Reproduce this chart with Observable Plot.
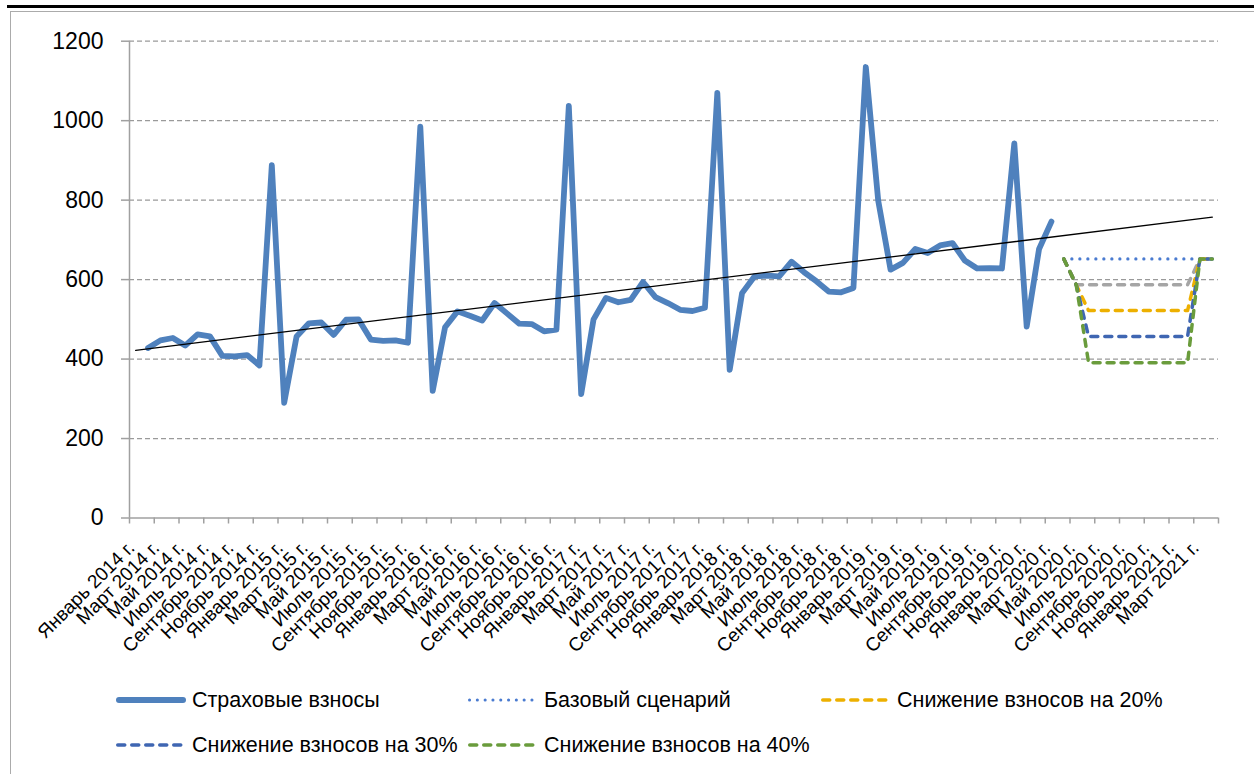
<!DOCTYPE html>
<html>
<head>
<meta charset="utf-8">
<script src="https://cdn.jsdelivr.net/npm/d3@7"></script>
<script src="https://cdn.jsdelivr.net/npm/@observablehq/plot@0.6"></script>
<style>
  body { margin: 0; background: #fff; font-family: "Liberation Sans", Arial, sans-serif; }
  #wrap { position: relative; width: 1254px; height: 774px; overflow: hidden; background: #fff; }
  #topline { position: absolute; left: 7px; top: 5px; width: 1247px; height: 3px; background: #000; }
  #frame { position: absolute; left: 10px; top: 11px; width: 1300px; height: 820px; border: 1.5px solid #ABABAB; box-sizing: border-box; }
  #chart { position: absolute; left: 0; top: 0; }
  .lg { position: absolute; display: flex; align-items: center; height: 30px; font-size: 21.5px; color: #000; white-space: nowrap; }
  .lg svg { margin-right: 5px; }
</style>
</head>
<body>
<div id="wrap">
  <div id="topline"></div>
  <div id="frame"></div>
  <div id="chart"></div>
  <div id="legend"></div>
</div>
<script>
// ---- data ----
const monthNames = ["Январь","Февраль","Март","Апрель","Май","Июнь","Июль","Август","Сентябрь","Октябрь","Ноябрь","Декабрь"];
const years = [2014, 2015, 2016, 2017, 2018, 2019, 2020, 2021];
const firstCategory = "Январь 2014 г.";
const lastCategory = "Апрель 2021 г.";

// Страховые взносы, monthly from February 2014
const premiumsStart = "Февраль 2014 г.";
const premiums = [
  428, 447, 453, 434, 462, 457, 408, 407, 410, 384, 888,
  290, 457, 490, 492, 461, 499, 500, 449, 446, 447, 441, 985,
  320, 480, 520, 509, 497, 541, 515, 489, 488, 470, 474, 1037,
  312, 500, 554, 543, 549, 594, 556, 541, 524, 521, 529, 1070,
  373, 566, 608, 610, 608, 645, 619, 596, 570, 568, 579, 1135,
  799, 625, 642, 677, 667, 686, 692, 648, 628, 629, 628, 943,
  482, 677, 746
];

// Scenarios, monthly from April 2020
const scenarioStart = "Апрель 2020 г.";
const baseScenario = [652, 652, 652, 652, 652, 652, 652, 652, 652, 652, 652, 652, 652];
const cut10 = [652, 587, 587, 587, 587, 587, 587, 587, 587, 587, 587, 652, 652];
const cut20 = [652, 587, 522, 522, 522, 522, 522, 522, 522, 522, 522, 652, 652];
const cut30 = [652, 587, 457, 457, 457, 457, 457, 457, 457, 457, 457, 652, 652];
const cut40 = [652, 587, 391, 391, 391, 391, 391, 391, 391, 391, 391, 652, 652];

// Linear trend endpoints (first and last category)
const trendValues = [422, 757];

const yTicks = [0, 200, 400, 600, 800, 1000, 1200];
const labelMonths = ["Январь","Март","Май","Июль","Сентябрь","Ноябрь"];

const legendItems = [
  {name: "Страховые взносы", color: "#4F81BD", width: 6, dash: null, cap: "round"},
  {name: "Базовый сценарий", color: "#4A7BD0", width: 3, dash: "0.1 7.7", cap: "round"},
  {name: "Снижение взносов на 20%", color: "#EDB000", width: 3.5, dash: "7 7", cap: "round"},
  {name: "Снижение взносов на 30%", color: "#3F66B2", width: 3.5, dash: "7 7", cap: "round"},
  {name: "Снижение взносов на 40%", color: "#6A9C3C", width: 3.5, dash: "7 7", cap: "round"}
];

// ---- build tables ----
const categories = [];
for (const y of years) for (const m of monthNames) {
  const c = `${m} ${y} г.`;
  if (categories.length && categories[categories.length - 1] === lastCategory) break;
  if (categories.length || c === firstCategory) categories.push(c);
}
const idx = c => categories.indexOf(c);
const seriesFrom = (start, vals) => vals.map((v, k) => ({i: idx(start) + k, v}));

const mainData = seriesFrom(premiumsStart, premiums);
const trend = [{i: 0, v: trendValues[0]}, {i: categories.length - 1, v: trendValues[1]}];
const labelIdx = categories.map((c, i) => i).filter(i => labelMonths.includes(categories[i].split(" ")[0]));
const boundaryTicks = labelIdx.map(i => i - 0.5).concat([categories.length - 0.5]);

const dashed = (vals, color) => Plot.line(seriesFrom(scenarioStart, vals), {
  x: "i", y: "v", stroke: color, strokeWidth: 3.5, strokeDasharray: "7 7",
  strokeLinecap: "round", strokeLinejoin: "round"
});

const chart = Plot.plot({
  width: 1254,
  height: 670,
  marginLeft: 129,
  marginRight: 36,
  marginTop: 40.7,
  marginBottom: 152.5,
  style: {fontFamily: "Liberation Sans, Arial, sans-serif", fontSize: "18px", background: "transparent", color: "#000"},
  x: {type: "linear", domain: [-0.5, categories.length - 0.5]},
  y: {domain: [0, 1200]},
  marks: [
    Plot.gridY({ticks: yTicks.filter(t => t > 0), stroke: "#9A9A9A", strokeOpacity: 1, strokeWidth: 1.2, strokeDasharray: "5 3"}),
    Plot.ruleY([0], {stroke: "#A0A0A0", strokeWidth: 1.5}),
    Plot.ruleX([-0.5], {stroke: "#A0A0A0", strokeWidth: 1.5}),
    Plot.axisY({ticks: yTicks, tickFormat: d => String(d), tickSize: 8, tickPadding: 18, fontSize: 23, stroke: "#A0A0A0", strokeWidth: 1.5, fill: "#000", label: null}),
    Plot.axisX({ticks: boundaryTicks, tickSize: 6, tickFormat: () => "", stroke: "#A0A0A0", strokeWidth: 1.5, label: null}),
    Plot.text(labelIdx, {
      x: d => d, frameAnchor: "bottom", text: d => categories[d],
      rotate: -45, textAnchor: "end", lineAnchor: "bottom", dy: 31, fontSize: 19, fill: "#000"
    }),
    Plot.line(mainData, {x: "i", y: "v", stroke: "#4F81BD", strokeWidth: 5.8, strokeLinejoin: "round", strokeLinecap: "round"}),
    Plot.line(seriesFrom(scenarioStart, baseScenario), {
      x: "i", y: "v", stroke: "#4A7BD0", strokeWidth: 3.2, strokeDasharray: "0.1 7.9", strokeLinecap: "round"
    }),
    dashed(cut10, "#A5A5A5"),
    dashed(cut20, "#EDB000"),
    dashed(cut30, "#3F66B2"),
    dashed(cut40, "#6A9C3C"),
    Plot.line(trend, {x: "i", y: "v", stroke: "#000", strokeWidth: 1.3})
  ]
});
document.getElementById("chart").appendChild(chart);

// ---- legend (HTML below the chart) ----
const legendPos = [
  {left: 115, top: 685}, {left: 467, top: 685}, {left: 820, top: 685},
  {left: 115, top: 730}, {left: 467, top: 730}
];
const legend = document.getElementById("legend");
legendItems.forEach((it, k) => {
  const div = document.createElement("div");
  div.className = "lg";
  div.style.left = legendPos[k].left + "px";
  div.style.top = legendPos[k].top + "px";
  const ns = "http://www.w3.org/2000/svg";
  const svg = document.createElementNS(ns, "svg");
  svg.setAttribute("width", 72); svg.setAttribute("height", 12);
  const ln = document.createElementNS(ns, "line");
  ln.setAttribute("x1", it.width / 2 + 1); ln.setAttribute("x2", 71 - it.width / 2);
  ln.setAttribute("y1", 6); ln.setAttribute("y2", 6);
  ln.setAttribute("stroke", it.color); ln.setAttribute("stroke-width", it.width);
  ln.setAttribute("stroke-linecap", it.cap);
  if (it.dash) ln.setAttribute("stroke-dasharray", it.dash);
  svg.appendChild(ln);
  div.appendChild(svg);
  const span = document.createElement("span");
  span.textContent = it.name;
  div.appendChild(span);
  legend.appendChild(div);
});
</script>
</body>
</html>
